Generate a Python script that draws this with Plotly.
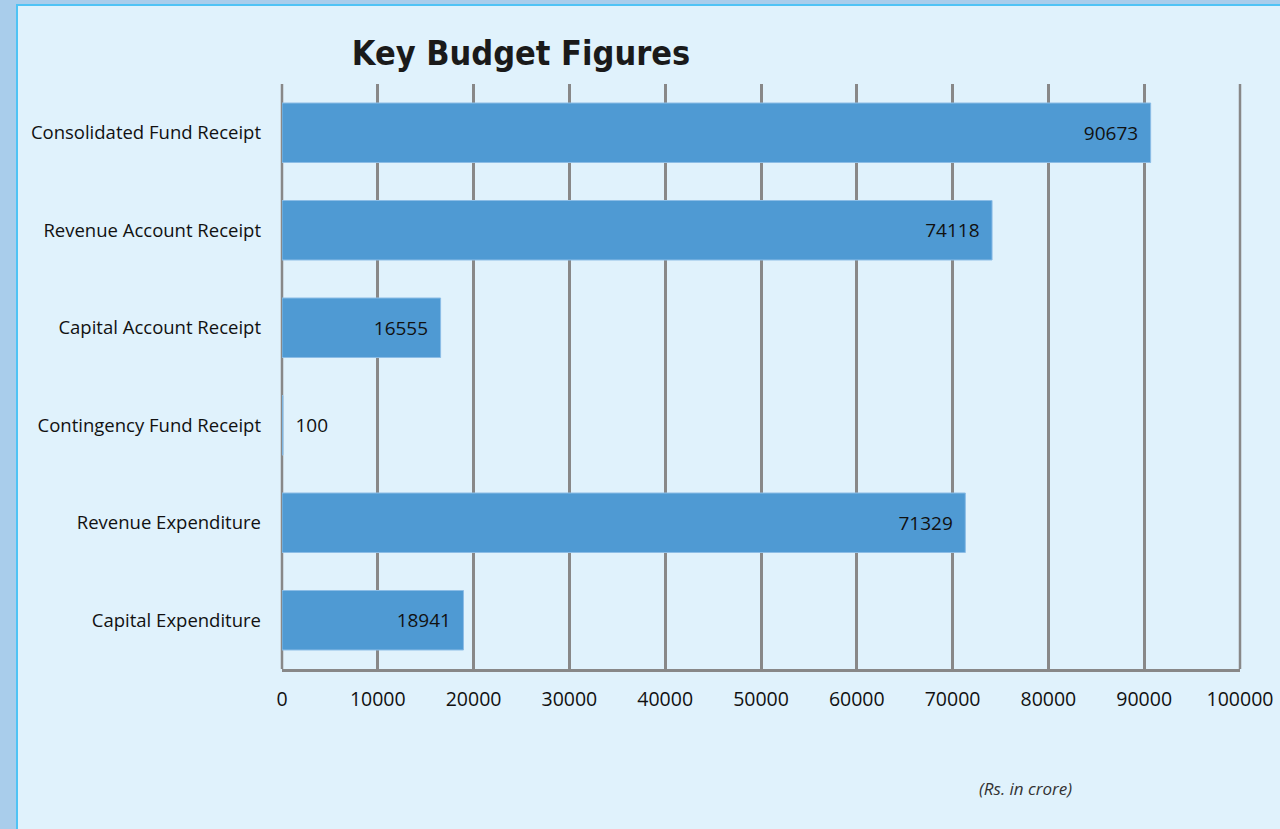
import plotly.graph_objects as go

categories = ["Consolidated Fund Receipt", "Revenue Account Receipt", "Capital Account Receipt",
              "Contingency Fund Receipt", "Revenue Expenditure", "Capital Expenditure"]
values = [90673, 74118, 16555, 100, 71329, 18941]
tick_vals = [0, 10000, 20000, 30000, 40000, 50000, 60000, 70000, 80000, 90000, 100000]
tick_text = [str(v) for v in tick_vals]

L, R, T, B = 282, 40, 84, 160
W, H = 1280, 829
pw, ph = W - L - R, H - T - B

def px(x):
    return (x - L) / pw

def py(y):
    return (H - B - y) / ph

# label placement: inside at bar end, except bars too short to hold the label
positions = ["inside" if v > 5000 else "outside" for v in values]
labels = [f"{v}\u2002" if p == "inside" else f"\u2002{v}" for v, p in zip(values, positions)]

font_lbl = dict(family="Open Sans", size=19, color="#111111")

fig = go.Figure(go.Bar(
    y=categories, x=values, orientation="h",
    marker=dict(color="#4F9AD3", line=dict(color="#8CBDE6", width=1)),
    width=0.61,
    text=labels, textposition=positions,
    insidetextanchor="end",
    textfont=font_lbl, insidetextfont=font_lbl, outsidetextfont=font_lbl,
    cliponaxis=False,
))

fig.update_layout(
    width=W, height=H,
    margin=dict(l=L, r=R, t=T, b=B, autoexpand=False),
    paper_bgcolor="#A9CDEB",
    plot_bgcolor="rgba(0,0,0,0)",
    showlegend=False,
    title=dict(text="<b>Key Budget Figures</b>", xref="container", x=521 / W, xanchor="center",
               yref="container", y=1 - 53 / H, yanchor="middle",
               font=dict(family="DejaVu Sans Condensed", size=34, color="#1a1a1a")),
    xaxis=dict(range=[0, 100000], tickvals=tick_vals, ticktext=tick_text,
               showgrid=True, gridcolor="#888888", gridwidth=2.5,
               zeroline=False, showline=True, linecolor="#888888", linewidth=3,
               ticks="", ticklabelstandoff=11,
               tickfont=dict(family="Open Sans", size=19.5, color="#111111")),
    yaxis=dict(categoryorder="array", categoryarray=categories, autorange="reversed",
               showgrid=False, zeroline=False, showline=False, ticks="",
               ticklabelstandoff=20,
               tickfont=dict(family="Open Sans", size=18.5, color="#111111")),
    shapes=[
        dict(type="rect", xref="paper", yref="paper", x0=px(17), x1=px(1290),
             y0=py(840), y1=py(5), fillcolor="#E0F2FC",
             line=dict(color="#4FC3F5", width=2), layer="below"),
        dict(type="line", xref="paper", yref="paper", x0=1, x1=1, y0=0, y1=1,
             line=dict(color="#888888", width=2.5), layer="below"),
        dict(type="line", xref="paper", yref="paper", x0=0, x1=0, y0=0, y1=1,
             line=dict(color="#888888", width=2.5), layer="below"),
    ],
    annotations=[
        dict(text="<i>(Rs. in crore)</i>", xref="paper", yref="paper",
             x=px(1025), y=py(788), xanchor="center", yanchor="middle",
             showarrow=False, font=dict(family="Open Sans", size=17, color="#333333")),
    ],
)

fig.write_html("out.html", config={"displayModeBar": False},
               post_script="document.body.style.margin='0';document.body.style.overflow='hidden';")
